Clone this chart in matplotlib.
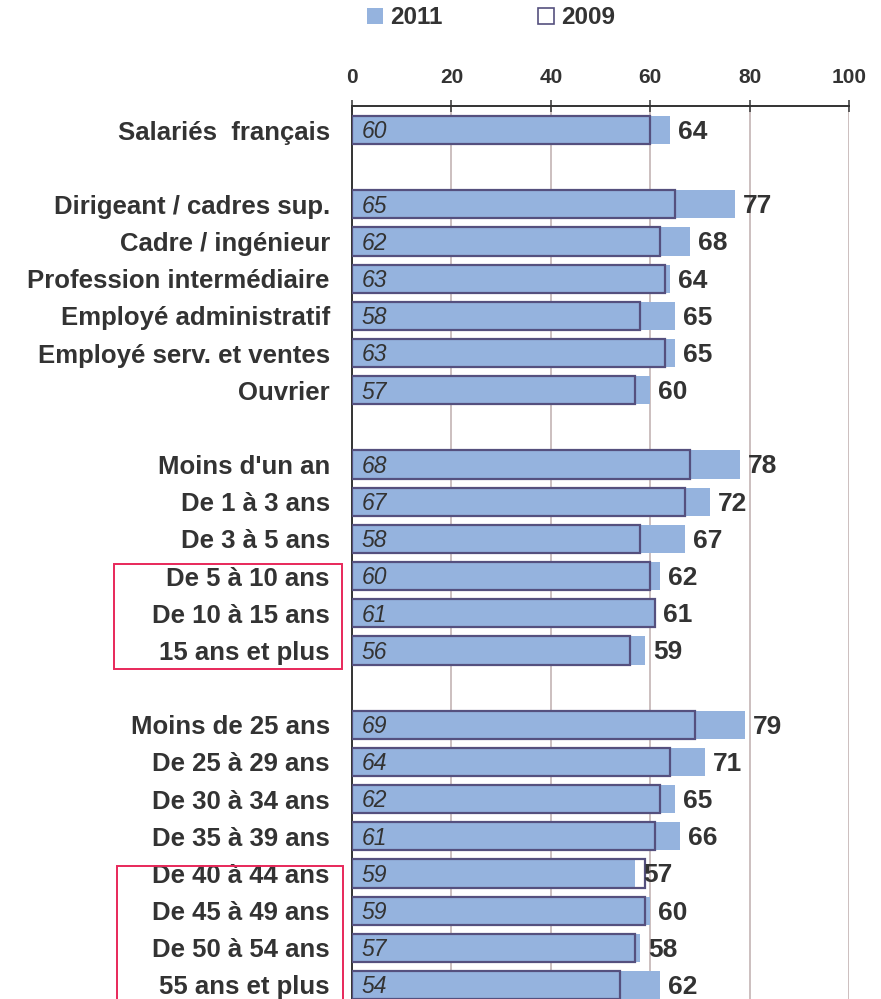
import matplotlib
matplotlib.use("Agg")
import matplotlib.pyplot as plt
from matplotlib.patches import Rectangle, Patch

plt.rcParams['font.family'] = ['Liberation Sans', 'DejaVu Sans']

# colours
blue2011 = '#95b3de'
edge2009 = '#55507e'
textcol = '#333333'
gridcol = '#c8baba'
boxred = '#e8285a'

# data (None = blank spacer row)
categories = ["Salariés  français", None,
              "Dirigeant / cadres sup.", "Cadre / ingénieur",
              "Profession intermédiaire", "Employé administratif",
              "Employé serv. et ventes", "Ouvrier", None,
              "Moins d'un an", "De 1 à 3 ans", "De 3 à 5 ans",
              "De 5 à 10 ans", "De 10 à 15 ans", "15 ans et plus", None,
              "Moins de 25 ans", "De 25 à 29 ans", "De 30 à 34 ans",
              "De 35 à 39 ans", "De 40 à 44 ans", "De 45 à 49 ans",
              "De 50 à 54 ans", "55 ans et plus"]
values_2011 = [64, None, 77, 68, 64, 65, 65, 60, None,
               78, 72, 67, 62, 61, 59, None,
               79, 71, 65, 66, 57, 60, 58, 62]
values_2009 = [60, None, 65, 62, 63, 58, 63, 57, None,
               68, 67, 58, 60, 61, 56, None,
               69, 64, 62, 61, 59, 59, 57, 54]
xticks = [0, 20, 40, 60, 80, 100]

W, H = 881, 999
fig = plt.figure(figsize=(W / 100, H / 100), dpi=100)

ax = fig.add_axes([352 / W, 0, (849 - 352) / W, (999 - 106) / H])

rows = [i for i, c in enumerate(categories) if c is not None]
v11 = [values_2011[i] for i in rows]
v09 = [values_2009[i] for i in rows]
bh = 0.76

# white 2009 bar behind, 2011 bar, then 2009 outline on top
ax.barh(rows, v09, height=bh, color='white', edgecolor='none', zorder=2)
ax.barh(rows, v11, height=bh, color=blue2011, edgecolor='none', zorder=3)
ax.barh(rows, v09, height=bh, color='none', edgecolor=edge2009,
        linewidth=1.6, zorder=4)

for r, a, b in zip(rows, v11, v09):
    ax.text(2, r + 0.05, str(b), ha='left', va='center', style='italic',
            fontsize=16.5, color=textcol, zorder=5)
    ax.text(a + 1.6, r + 0.05, str(a), ha='left', va='center',
            fontweight='bold', fontsize=19, color=textcol, zorder=5)

ax.set_xlim(0, 100)
ax.set_ylim(23 + 14 / 37.17, -24 / 37.17)
ax.set_yticks(rows)
ax.set_yticklabels([categories[i] for i in rows], fontweight='bold',
                   fontsize=18.5, color=textcol)
ax.tick_params(axis='y', length=0, pad=16)

ax.xaxis.tick_top()
ax.set_xticks(xticks)
ax.set_xticklabels([str(t) for t in xticks], fontweight='bold',
                   fontsize=15, color=textcol)
ax.tick_params(axis='x', direction='inout', length=8, width=1.2,
               color='#444444', pad=10)
for t in xticks[1:]:
    ax.axvline(t, color=gridcol, linewidth=1.3, zorder=1)

for s in ['right', 'bottom']:
    ax.spines[s].set_visible(False)
for s in ['top', 'left']:
    ax.spines[s].set_color('#333333')
    ax.spines[s].set_linewidth(1.4)

# legend
handles = [Patch(facecolor=blue2011, edgecolor='none', label='2011'),
           Patch(facecolor='white', edgecolor=edge2009, linewidth=1.2,
                 label='2009')]
fig.legend(handles=handles, loc='center', bbox_to_anchor=(491 / W, 1 - 18 / H),
           ncol=2, frameon=False, handlelength=0.68, handleheight=0.68,
           handletextpad=0.3, columnspacing=3.9,
           prop={'weight': 'bold', 'size': 17.5}, labelcolor=textcol)

# highlight boxes around label groups
fig.add_artist(Rectangle((114 / W, 1 - 669 / H), (342 - 114) / W,
                         (669 - 564) / H, transform=fig.transFigure,
                         fill=False, edgecolor=boxred, linewidth=1.4))
fig.add_artist(Rectangle((117 / W, 1 - 1010 / H), (343 - 117) / W,
                         (1010 - 866) / H, transform=fig.transFigure,
                         fill=False, edgecolor=boxred, linewidth=1.4,
                         zorder=0.5))

fig.savefig('out.png', dpi=100, facecolor='white')
